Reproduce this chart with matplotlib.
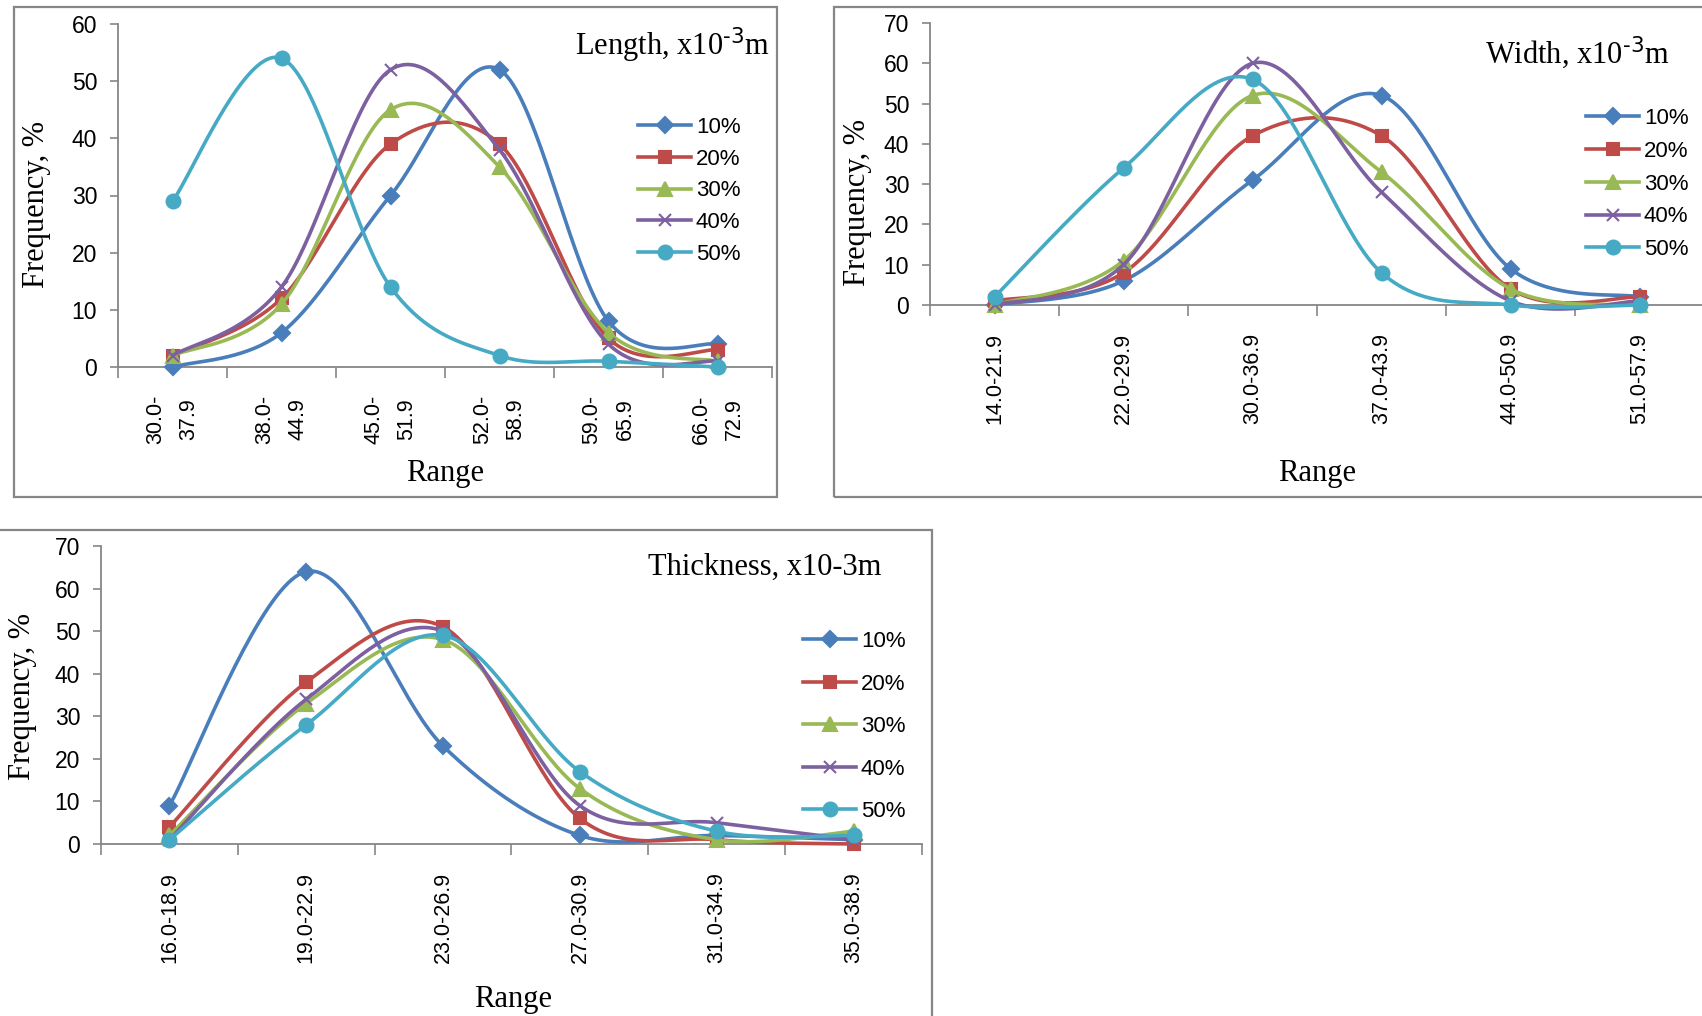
import numpy as np
import matplotlib.pyplot as plt
from matplotlib.patches import Rectangle

W, H = 1702, 1016

# series styling (Excel 2007 palette)
series_names = ['10%', '20%', '30%', '40%', '50%']
colors = ['#4A7EBB', '#BE4B48', '#98B954', '#7D60A0', '#46AAC5']
markers = ['D', 's', '^', 'x', 'o']
msizes = [8, 9, 10, 9, 10]

# Length chart
length_cats = ['30.0-\n37.9', '38.0-\n44.9', '45.0-\n51.9', '52.0-\n58.9', '59.0-\n65.9', '66.0-\n72.9']
length_freq = [
    [0, 6, 30, 52, 8, 4],
    [2, 12, 39, 39, 5, 3],
    [2, 11, 45, 35, 6, 1],
    [2, 14, 52, 38, 4, 1],
    [29, 54, 14, 2, 1, 0],
]

# Width chart
width_cats = ['14.0-21.9', '22.0-29.9', '30.0-36.9', '37.0-43.9', '44.0-50.9', '51.0-57.9']
width_freq = [
    [0, 6, 31, 52, 9, 2],
    [1, 8, 42, 42, 4, 2],
    [0, 11, 52, 33, 4, 0],
    [0, 10, 60, 28, 1, 1],
    [2, 34, 56, 8, 0, 0],
]

# Thickness chart
thick_cats = ['16.0-18.9', '19.0-22.9', '23.0-26.9', '27.0-30.9', '31.0-34.9', '35.0-38.9']
thick_freq = [
    [9, 64, 23, 2, 2, 1],
    [4, 38, 51, 6, 1, 0],
    [2, 33, 48, 13, 1, 3],
    [1, 34, 50, 9, 5, 1],
    [1, 28, 49, 17, 3, 2],
]


def smooth(y, n=40):
    # Excel-style smoothed line: cubic bezier with 1/6 neighbour tangents
    y = np.asarray(y, float)
    x = np.arange(len(y), dtype=float)
    P = np.column_stack([x, y])
    Pp = np.vstack([P[:1], P, P[-1:]])
    t = np.linspace(0, 1, n)[:, None]
    out = []
    for i in range(len(y) - 1):
        p0, p3 = P[i], P[i + 1]
        c1 = p0 + (Pp[i + 2] - Pp[i]) / 6
        c2 = p3 - (Pp[i + 3] - Pp[i + 1]) / 6
        seg = (1 - t)**3 * p0 + 3 * (1 - t)**2 * t * c1 + 3 * (1 - t) * t**2 * c2 + t**3 * p3
        out.append(seg if i == 0 else seg[1:])
    out = np.vstack(out)
    return out[:, 0], out[:, 1]


def fx(px):
    return px / W


def fy(py):
    return 1 - py / H


fig = plt.figure(figsize=(W / 100, H / 100), dpi=100)

grey = '#868686'
sans = 'Liberation Sans'
serif = 'Liberation Serif'

# chart borders
for (x0, y0, x1, y1) in [(14, 7, 777, 497), (834, 7, 1712, 497), (-10, 530, 932, 1030)]:
    fig.patches.append(Rectangle((fx(x0), fy(y1)), fx(x1 - x0), (y1 - y0) / H,
                                 transform=fig.transFigure, fill=False,
                                 edgecolor=grey, lw=1.6))


def draw(rect, cats, freq, ymax, title, title_xy, ylab_xy, xlab_xy, leg_xy, legspace):
    l, t, r, b = rect
    ax = fig.add_axes([fx(l), fy(b), fx(r - l), (b - t) / H])
    ax.set_facecolor('none')
    for i, vals in enumerate(freq):
        xs, ys = smooth(vals)
        ax.plot(xs, ys, color=colors[i], lw=2.6, clip_on=False, zorder=3 + i)
        ax.plot(range(len(vals)), vals, linestyle='none', marker=markers[i],
                ms=msizes[i], color=colors[i], mew=1.5, clip_on=False, zorder=3 + i)
        ax.plot([], [], color=colors[i], lw=2.6, marker=markers[i], ms=msizes[i],
                mew=1.5, label=series_names[i])
    ax.set_xlim(-0.5, len(cats) - 0.5)
    ax.set_ylim(0, ymax)
    ax.set_yticks(range(0, ymax + 1, 10))
    ax.set_xticks(range(len(cats)))
    ax.set_xticklabels(cats, rotation=90, fontsize=15.5, family=sans, linespacing=1.75)
    ax.set_xticks(np.arange(-0.5, len(cats), 1), minor=True)
    ax.tick_params(axis='x', which='major', length=0, pad=20)
    ax.tick_params(axis='x', which='minor', length=8, width=1.2, color=grey, direction='out')
    ax.tick_params(axis='y', length=6, width=1.2, color=grey, direction='out', pad=9)
    for lb in ax.get_yticklabels():
        lb.set_fontsize(16.5)
        lb.set_family(sans)
    for s in ['top', 'right']:
        ax.spines[s].set_visible(False)
    for s in ['left', 'bottom']:
        ax.spines[s].set_color(grey)
        ax.spines[s].set_linewidth(1.3)
    fig.text(fx(title_xy[0]), fy(title_xy[1]), title, ha='right', va='center',
             fontsize=22, family=serif)
    fig.text(fx(ylab_xy[0]), fy(ylab_xy[1]), 'Frequency, %', rotation=90,
             ha='center', va='center', fontsize=22, family=serif)
    fig.text(fx(xlab_xy[0]), fy(xlab_xy[1]), 'Range', ha='center', va='center',
             fontsize=22, family=serif)
    ax.legend(loc='upper left', bbox_to_anchor=(fx(leg_xy[0]), fy(leg_xy[1])),
              bbox_transform=fig.transFigure, frameon=False, borderpad=0,
              borderaxespad=0, handlelength=2.4, handletextpad=0.2,
              labelspacing=legspace, prop={'family': sans, 'size': 16})
    return ax


draw((118, 24, 772, 367), length_cats, length_freq, 60,
     r'Length, x10$^{\text{-3}}$m', (770, 45), (37, 205), (445, 473), (638, 117), 0.48)
draw((930, 23, 1704, 305), width_cats, width_freq, 70,
     r'Width, x10$^{\text{-3}}$m', (1670, 53), (858, 202), (1317, 473), (1586, 108), 0.53)
draw((101, 546, 922, 844), thick_cats, thick_freq, 70,
     'Thickness, x10-3m', (881, 567), (23, 697), (513, 1000), (803, 631), 0.97)

fig.savefig('out.png', dpi=100)
